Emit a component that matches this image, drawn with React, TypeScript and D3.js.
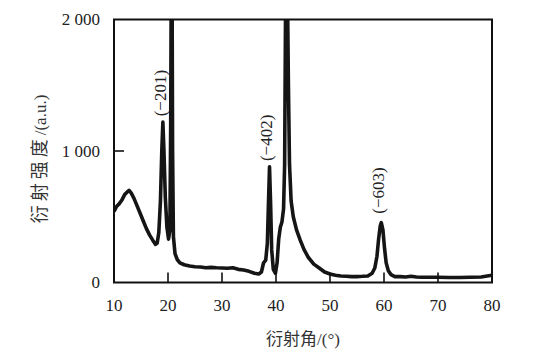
import React from "react";
import * as d3 from "d3";

const angles = [
  10.0, 10.5, 11.0, 11.5, 12.0, 12.5, 12.8, 13.2, 13.7, 14.2, 14.8, 15.4, 16.0, 16.6, 17.2, 17.7, 18.0, 18.3, 18.6,
  18.85, 19.05, 19.25, 19.5, 19.8, 20.1, 20.35, 20.5, 20.6, 20.75, 20.85, 21.0, 21.3, 21.7, 22.2, 23, 24, 25, 26,
  27, 28, 29, 30, 31, 32, 33, 34, 35, 36, 36.8, 37.3, 37.7, 38.1, 38.4, 38.6, 38.8, 39.0, 39.2, 39.5, 39.9, 40.2,
  40.5, 40.8, 41.1, 41.4, 41.6, 41.8, 42.1, 42.3, 42.5, 42.8, 43.2, 43.8, 44.5, 45.2, 46, 47, 48, 49, 50, 51, 52,
  53, 54, 55, 56, 57, 57.8, 58.3, 58.7, 59.0, 59.3, 59.5, 59.8, 60.1, 60.4, 60.8, 61.3, 62, 63, 64, 65, 66, 67, 68,
  70, 72, 74, 76, 78, 80,
];
const intensity = [
  540, 580, 600, 630, 670, 690, 700, 680, 640, 590, 530, 470, 410, 360, 320, 290, 300, 380, 620,
  1000, 1220, 1000, 650, 420, 330, 400, 1200, 2300, 2300, 1000, 350, 220, 175, 150, 135, 125, 120, 118,
  112, 115, 112, 110, 108, 112, 100, 95, 85, 70, 65, 80, 150, 170, 300, 600, 880, 600, 250, 100, 70, 150,
  330, 420, 460, 560, 900, 2300, 2300, 1500, 900, 620, 500, 400, 320, 250, 190, 140, 110, 80, 65, 55, 50,
  48, 45, 45, 47, 50, 70, 110, 200, 330, 430, 455, 400, 260, 150, 90, 60, 45, 45, 42, 48, 42, 40, 40,
  40, 38, 38, 40, 42, 55,
];

const xTicks = [10, 20, 30, 40, 50, 60, 70, 80];
const yTicks = [0, 1000, 2000];
const yTickLabels = ["0", "1 000", "2 000"];

const peakLabels = ["(−201)", "(−402)", "(−603)"];
const peakAngles = [19.05, 38.8, 59.5];
const peakLabelIntensity = [1440, 1100, 700];

const xTitleCJK = "衍射角";
const xTitleRest = "/(°)";
const yTitleCJK = "衍射强度";
const yTitleRest = "/(a.u.)";

export default function App() {
  const W = 553;
  const H = 359;
  const left = 114;
  const right = 492;
  const top = 19.5;
  const bottom = 282.5;

  const x = d3.scaleLinear().domain([10, 80]).range([left, right]);
  const y = d3.scaleLinear().domain([0, 2000]).range([bottom, top]);

  const data = angles.map((a, i) => [a, intensity[i]] as [number, number]);
  const line = d3
    .line<[number, number]>()
    .x((d) => x(d[0]))
    .y((d) => y(d[1]));

  const serif = "'Liberation Serif', 'Times New Roman', serif";
  const cjk = "'Noto Sans CJK SC', sans-serif";

  return (
    <svg
      width={W}
      height={H}
      style={{ position: "absolute", left: 0, top: 0, background: "#fff" }}
    >
      <defs>
        <clipPath id="plotclip">
          <rect x={left} y={top} width={right - left} height={bottom - top} />
        </clipPath>
      </defs>
      <path
        d={line(data) || ""}
        fill="none"
        stroke="#151515"
        strokeWidth={3.6}
        strokeLinejoin="round"
        clipPath="url(#plotclip)"
      />
      <rect
        x={left}
        y={top}
        width={right - left}
        height={bottom - top}
        fill="none"
        stroke="#111"
        strokeWidth={2}
      />
      {xTicks.map((t) => (
        <g key={"xt" + t}>
          {t > 10 && t < 80 && (
            <line x1={x(t)} x2={x(t)} y1={bottom} y2={bottom - 10} stroke="#111" strokeWidth={1.6} />
          )}
          <text
            x={x(t)}
            y={311}
            textAnchor="middle"
            fontFamily={serif}
            fontSize={17}
            fill="#222"
          >
            {t}
          </text>
        </g>
      ))}
      {yTicks.map((t, i) => (
        <g key={"yt" + t}>
          {t > 0 && t < 2000 && (
            <line x1={left} x2={left + 10} y1={y(t)} y2={y(t)} stroke="#111" strokeWidth={1.6} />
          )}
          <text
            x={100}
            y={y(t)}
            dy="0.35em"
            textAnchor="end"
            fontFamily={serif}
            fontSize={17}
            fill="#222"
          >
            {yTickLabels[i]}
          </text>
        </g>
      ))}
      {peakLabels.map((lab, i) => (
        <text
          key={lab}
          transform={`translate(${x(peakAngles[i]) - 3},${y(peakLabelIntensity[i])}) rotate(-90)`}
          textAnchor="middle"
          dy="0.35em"
          fontFamily={serif}
          fontSize={17}
          fill="#222"
        >
          {lab}
        </text>
      ))}
      <text x={303} y={345} textAnchor="middle" fill="#333">
        <tspan fontFamily={cjk} fontSize={17}>
          {xTitleCJK}
        </tspan>
        <tspan fontFamily={serif} fontSize={17}>
          {xTitleRest}
        </tspan>
      </text>
      <text
        transform="translate(46,159) rotate(-90)"
        textAnchor="middle"
        fill="#333"
      >
        <tspan fontFamily={cjk} fontSize={18} letterSpacing={4}>
          {yTitleCJK}
        </tspan>
        <tspan fontFamily={serif} fontSize={17}>
          {yTitleRest}
        </tspan>
      </text>
    </svg>
  );
}
